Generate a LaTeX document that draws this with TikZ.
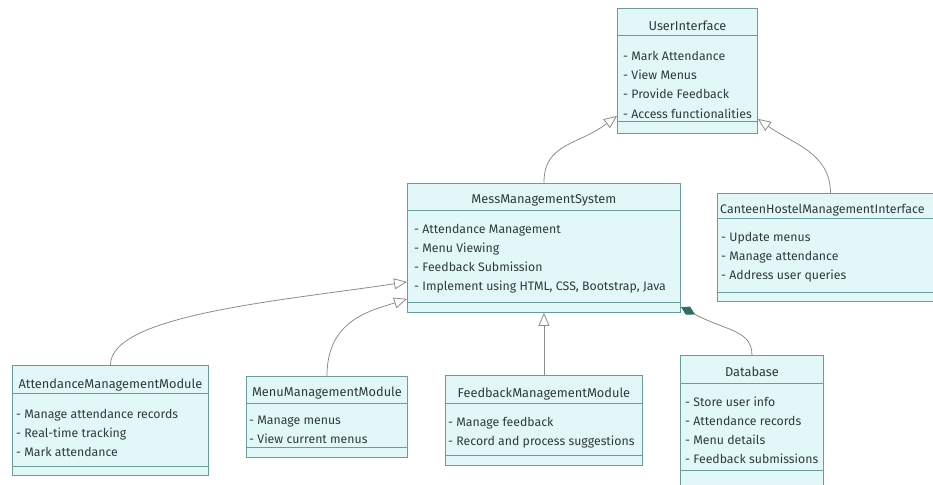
\documentclass[tikz,border=0pt]{standalone}
\usepackage{fontspec}
\setmainfont{Fira Sans}
\usetikzlibrary{arrows.meta,calc}
\definecolor{clsfill}{HTML}{E2F7F7}
\definecolor{clsline}{HTML}{6A9C9C}
\definecolor{clstext}{HTML}{2F3B3A}
\definecolor{edgeline}{HTML}{8C8C8C}
\definecolor{compfill}{HTML}{2F6F62}
\tikzset{
  cls/.style={draw=clsline, fill=clsfill, line width=0.9pt, inner sep=0pt, anchor=north west},
  ttl/.style={text=clstext, font=\fontsize{12.8}{15}\selectfont, inner sep=0pt, anchor=base},
  attr/.style={text=clstext, font=\fontsize{12.3}{15}\selectfont, inner sep=0pt, anchor=base west},
  sep/.style={draw=clsline, line width=0.9pt},
  inherit/.style={draw=edgeline, line width=0.8pt, -{Triangle[length=13pt, width=11pt, fill=white]}},
  compose/.style={draw=edgeline, line width=0.8pt, {Diamond[length=16pt, width=9pt, color=compfill]}-},
}
\begin{document}
\begin{tikzpicture}[x=1pt, y=-1pt]
    \useasboundingbox (0,0) rectangle (933,484);

    % UserInterface
    \node[cls, minimum width=140pt, minimum height=125pt] (ui) at (617,8) {};
    \node[ttl] (ui-title) at ($(ui.north)+(0,23)$) {UserInterface};
    \draw[sep] ($(ui.north west)+(0,27)$) -- ($(ui.north east)+(0,27)$);
    \draw[sep] ($(ui.south west)+(0,-12)$) -- ($(ui.south east)+(0,-12)$);
    \foreach \a [count=\i] in {Mark Attendance, View Menus, Provide Feedback, Access functionalities}
      \node[attr] (ui-a\i) at ($(ui.north west)+(6,34+19*\i)$) {- \a};

    % MessManagementSystem
    \node[cls, minimum width=273pt, minimum height=129pt] (mms) at (407,183) {};
    \node[ttl] (mms-title) at ($(mms.north)+(0,20)$) {MessManagementSystem};
    \draw[sep] ($(mms.north west)+(0,27)$) -- ($(mms.north east)+(0,27)$);
    \draw[sep] ($(mms.south west)+(0,-10)$) -- ($(mms.south east)+(0,-10)$);
    \foreach \a [count=\i] in {Attendance Management, Menu Viewing, Feedback Submission, {Implement using HTML, CSS, Bootstrap, Java}}
      \node[attr] (mms-a\i) at ($(mms.north west)+(7,31+19*\i)$) {- \a};

    % CanteenHostelManagementInterface
    \node[cls, minimum width=226pt, minimum height=108pt] (chmi) at (717,193) {};
    \node[ttl, anchor=base west, font=\fontsize{12.4}{15}\selectfont] (chmi-title) at ($(chmi.north west)+(3,20)$) {CanteenHostelManagementInterface};
    \draw[sep] ($(chmi.north west)+(0,25)$) -- ($(chmi.north east)+(0,25)$);
    \draw[sep] ($(chmi.south west)+(0,-9)$) -- ($(chmi.south east)+(0,-9)$);
    \foreach \a [count=\i] in {Update menus, Manage attendance, Address user queries}
      \node[attr] (chmi-a\i) at ($(chmi.north west)+(4,29+19*\i)$) {- \a};

    % AttendanceManagementModule
    \node[cls, minimum width=196pt, minimum height=110pt] (amm) at (12,365) {};
    \node[ttl] (amm-title) at ($(amm.north)+(0,23)$) {AttendanceManagementModule};
    \draw[sep] ($(amm.north west)+(0,28)$) -- ($(amm.north east)+(0,28)$);
    \draw[sep] ($(amm.south west)+(0,-9)$) -- ($(amm.south east)+(0,-9)$);
    \foreach \a [count=\i] in {Manage attendance records, Real-time tracking, Mark attendance}
      \node[attr] (amm-a\i) at ($(amm.north west)+(4,34+19*\i)$) {- \a};

    % MenuManagementModule
    \node[cls, minimum width=161pt, minimum height=81pt] (memm) at (246,376) {};
    \node[ttl] (memm-title) at ($(memm.north)+(0,20)$) {MenuManagementModule};
    \draw[sep] ($(memm.north west)+(0,27)$) -- ($(memm.north east)+(0,27)$);
    \draw[sep] ($(memm.south west)+(0,-10)$) -- ($(memm.south east)+(0,-10)$);
    \foreach \a [count=\i] in {Manage menus, View current menus}
      \node[attr] (memm-a\i) at ($(memm.north west)+(3,29+19*\i)$) {- \a};

    % FeedbackManagementModule
    \node[cls, minimum width=197pt, minimum height=90pt] (fmm) at (445,375) {};
    \node[ttl] (fmm-title) at ($(fmm.north)+(0,22)$) {FeedbackManagementModule};
    \draw[sep] ($(fmm.north west)+(0,28)$) -- ($(fmm.north east)+(0,28)$);
    \draw[sep] ($(fmm.south west)+(0,-10)$) -- ($(fmm.south east)+(0,-10)$);
    \foreach \a [count=\i] in {Manage feedback, Record and process suggestions}
      \node[attr] (fmm-a\i) at ($(fmm.north west)+(3,32+19*\i)$) {- \a};

    % Database
    \node[cls, minimum width=143pt, minimum height=135pt] (db) at (680,355) {};
    \node[ttl] (db-title) at ($(db.north)+(0,21)$) {Database};
    \draw[sep] ($(db.north west)+(0,28)$) -- ($(db.north east)+(0,28)$);
    \draw[sep] ($(db.north west)+(0,115)$) -- ($(db.north east)+(0,115)$);
    \foreach \a [count=\i] in {Store user info, Attendance records, Menu details, Feedback submissions}
      \node[attr] (db-a\i) at ($(db.north west)+(5,32+19*\i)$) {- \a};

    \draw[inherit] (mms.north) .. controls +(0,-40) and +(-40,30) .. ([yshift=18pt]ui.south west);
    \draw[inherit] (chmi.north) .. controls +(0,-40) and +(35,25) .. ([yshift=15pt]ui.south east);
    \draw[inherit] (amm.north) .. controls +(0,-50) and +(-127,19) .. ([yshift=31pt]mms.south west);
    \draw[inherit] (memm.north) .. controls +(0,-56) and +(-37,12) .. ([yshift=14pt]mms.south west);
    \draw[inherit] (fmm.north) -- (mms.south);
    \draw[compose] ([yshift=6pt]mms.south east) .. controls +(45,24) and +(0,-25) .. (db.north);
\end{tikzpicture}
\end{document}
